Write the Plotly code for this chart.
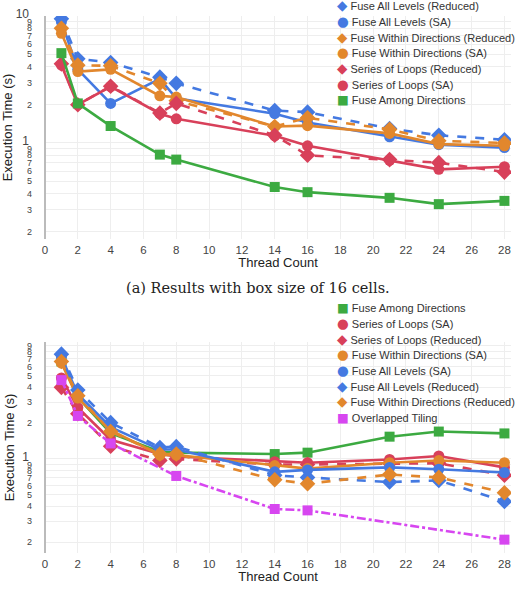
import plotly.graph_objects as go

# ---------------- data ----------------
threads = [1, 2, 4, 7, 8, 14, 16, 21, 24, 28]
x_ticks = list(range(0, 30, 2))

# (a) box size 16
a_fal_reduced = [9.5, 4.6, 4.3, 3.3, 2.95, 1.8, 1.75, 1.3, 1.15, 1.06]
a_fal_sa = [9.0, 3.8, 2.05, 3.2, 2.25, 1.7, 1.45, 1.12, 0.97, 0.92]
a_fwd_reduced = [8.0, 4.1, 4.05, 2.95, 2.15, 1.35, 1.58, 1.28, 1.04, 1.0]
a_fwd_sa = [7.3, 3.65, 3.8, 2.35, 2.3, 1.35, 1.37, 1.19, 0.98, 0.95]
a_sol_reduced = [4.2, 2.0, 2.8, 1.72, 2.05, 1.15, 0.8, 0.74, 0.7, 0.59]
a_sol_sa = [4.1, 2.0, 2.78, 1.7, 1.55, 1.14, 0.95, 0.73, 0.62, 0.65]
a_fad = [5.1, 2.05, 1.36, 0.81, 0.74, 0.45, 0.41, 0.37, 0.33, 0.35]

# (b)
b_fad = [6.6, 3.3, 1.65, 1.15, 1.13, 1.10, 1.13, 1.54, 1.70, 1.64]
b_sol_sa = [4.8, 2.7, 1.45, 1.1, 1.05, 0.95, 0.93, 0.99, 1.06, 0.85]
b_sol_reduced = [4.0, 2.4, 1.28, 0.97, 1.0, 0.9, 0.9, 0.92, 0.92, 0.73]
b_fwd_sa = [6.4, 3.25, 1.75, 1.08, 1.08, 0.88, 0.83, 0.93, 0.97, 0.93]
b_fal_sa = [7.2, 3.5, 1.85, 1.2, 1.2, 0.78, 0.81, 0.85, 0.82, 0.77]
b_fal_reduced = [7.6, 3.8, 2.02, 1.25, 1.27, 0.73, 0.70, 0.64, 0.66, 0.44]
b_fwd_reduced = [6.6, 3.4, 1.7, 1.1, 1.1, 0.67, 0.62, 0.74, 0.70, 0.52]
ot_threads = [1, 2, 4, 8, 14, 16, 28]
b_ot = [4.6, 2.3, 1.35, 0.72, 0.38, 0.37, 0.21]

# ---------------- styles ----------------
BLUE, ORANGE, RED, GREEN, MAGENTA = "#4479e1", "#e2872d", "#d8405a", "#3caa41", "#d746f0"
style = {
    "Fuse All Levels (Reduced)": (BLUE, "diamond", "dash"),
    "Fuse All Levels (SA)": (BLUE, "circle", "solid"),
    "Fuse Within Directions (Reduced)": (ORANGE, "diamond", "dash"),
    "Fuse Within Directions (SA)": (ORANGE, "circle", "solid"),
    "Series of Loops (Reduced)": (RED, "diamond", "dash"),
    "Series of Loops (SA)": (RED, "circle", "solid"),
    "Fuse Among Directions": (GREEN, "square", "solid"),
    "Overlapped Tiling": (MAGENTA, "square", "dashdot"),
}
msize = {"diamond": 12, "circle": 11, "square": 10}
glyph = {"diamond": ("\u25C6", 13.5), "circle": ("\u25CF", 13.5), "square": ("\u25A0", 12.5)}

series_a = [
    ("Fuse All Levels (Reduced)", threads, a_fal_reduced),
    ("Fuse All Levels (SA)", threads, a_fal_sa),
    ("Fuse Within Directions (Reduced)", threads, a_fwd_reduced),
    ("Fuse Within Directions (SA)", threads, a_fwd_sa),
    ("Series of Loops (Reduced)", threads, a_sol_reduced),
    ("Series of Loops (SA)", threads, a_sol_sa),
    ("Fuse Among Directions", threads, a_fad),
]
series_b = [
    ("Fuse Among Directions", threads, b_fad),
    ("Series of Loops (SA)", threads, b_sol_sa),
    ("Series of Loops (Reduced)", threads, b_sol_reduced),
    ("Fuse Within Directions (SA)", threads, b_fwd_sa),
    ("Fuse All Levels (SA)", threads, b_fal_sa),
    ("Fuse All Levels (Reduced)", threads, b_fal_reduced),
    ("Fuse Within Directions (Reduced)", threads, b_fwd_reduced),
    ("Overlapped Tiling", ot_threads, b_ot),
]

W, H = 524, 595
def py(p):
    return (H - p) / H

fig = go.Figure()

def add_series(series, xa, ya, legend_top):
    for name, xs, ys in series:
        c, sym, dash = style[name]
        fig.add_trace(go.Scatter(
            x=xs, y=ys, name=name, mode="lines+markers",
            line=dict(color=c, width=2.6, dash=dash),
            marker=dict(color=c, symbol=sym, size=msize[sym]),
            xaxis=xa, yaxis=ya, showlegend=False))
    # compact legend drawn as text rows
    for i, (name, xs, ys) in enumerate(series):
        c, sym, dash = style[name]
        g, gs = glyph[sym]
        fig.add_annotation(
            text=(f'<span style="color:{c};font-family:DejaVu Sans;font-size:{gs}px">{g}</span>'
                  f' {name}'),
            xref="paper", yref="paper", x=335 / W, y=py(legend_top + 15.65 * i),
            xanchor="left", yanchor="middle", showarrow=False,
            font=dict(family="Liberation Sans, Arial, sans-serif", size=11, color="#333"))

add_series(series_a, "x", "y", 5.5)
add_series(series_b, "x2", "y2", 307.5)

xdom = [45 / W, 511 / W]
tickfont = dict(family="Liberation Sans, Arial, sans-serif", size=11.5, color="#444")
titlefont = dict(family="Liberation Sans, Arial, sans-serif", size=13, color="#222")

xcommon = dict(range=[0, 28.4], tickvals=x_ticks, showgrid=True, gridcolor="#eeeeee",
               zeroline=True, zerolinecolor="#bbbbbb", zerolinewidth=1.5,
               showline=False, tickfont=tickfont, ticklabelstandoff=2,
               title=dict(text="Thread Count", font=titlefont, standoff=2))
ycommon = dict(type="log", dtick="D1", showgrid=True, gridcolor="#eeeeee",
               showline=False, zeroline=False, tickfont=dict(tickfont, size=12),
               ticklabelstandoff=12,
               title=dict(text="Execution Time (s)", font=titlefont, standoff=4))

fig.update_layout(
    width=W, height=H,
    margin=dict(l=0, r=0, t=0, b=0, autoexpand=False),
    paper_bgcolor="white", plot_bgcolor="white",
    font=dict(family="Liberation Sans, Arial, sans-serif", color="#222"),
    xaxis=dict(xcommon, domain=xdom, anchor="y"),
    yaxis=dict(ycommon, domain=[py(239), py(16)], range=[-0.756, 1.0], anchor="x"),
    xaxis2=dict(xcommon, domain=xdom, anchor="y2"),
    yaxis2=dict(ycommon, domain=[py(553), py(342)], range=[-0.79, 0.983], anchor="x2"),
    showlegend=False,
)

caption_font = dict(family="DejaVu Serif, Liberation Serif, serif", size=14.5, color="#222")
fig.add_annotation(text="(a) Results with box size of 16 cells.", xref="paper", yref="paper",
                   x=258 / W, y=py(288), xanchor="center", yanchor="middle",
                   showarrow=False, font=caption_font)
fig.add_annotation(text="(b) Results with box size of 32 cells.", xref="paper", yref="paper",
                   x=258 / W, y=py(593), xanchor="center", yanchor="top",
                   showarrow=False, font=caption_font)

fig.write_html("out.html")
